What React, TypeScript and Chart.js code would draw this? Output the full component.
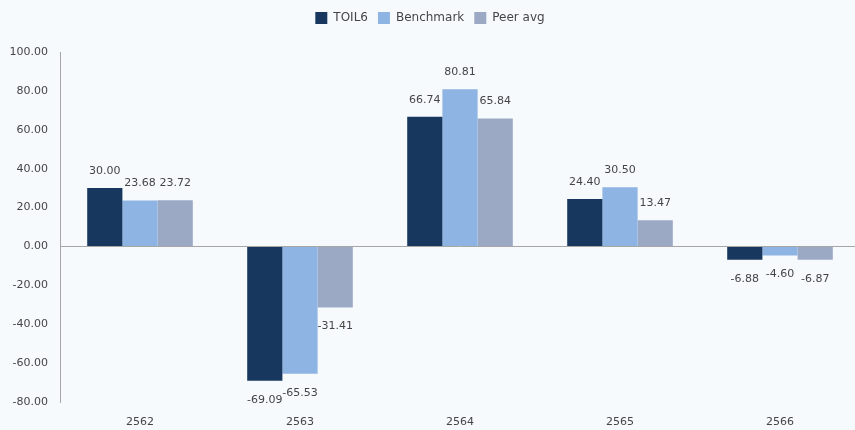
import React, { useEffect, useRef } from "react";
import { Chart, registerables } from "chart.js";

Chart.register(...registerables);

const categories = ["2562", "2563", "2564", "2565", "2566"];
const toil6 = [30.0, -69.09, 66.74, 24.4, -6.88];
const benchmark = [23.68, -65.53, 80.81, 30.5, -4.6];
const peerAvg = [23.72, -31.41, 65.84, 13.47, -6.87];
const seriesNames = ["TOIL6", "Benchmark", "Peer avg"];
const seriesColors = ["#17375E", "#8DB4E2", "#9BA9C5"];

const FONT = "'DejaVu Sans', sans-serif";
const TEXT = "#454545";

const legendMargin = {
  id: "legendMargin",
  beforeInit(chart: any) {
    const orig = chart.legend.fit;
    chart.legend.fit = function () {
      orig.bind(chart.legend)();
      this.height += 18;
    };
  },
};

const valueLabels = {
  id: "valueLabels",
  afterDatasetsDraw(chart: any) {
    const ctx = chart.ctx;
    ctx.save();
    ctx.font = `11px ${FONT}`;
    ctx.fillStyle = TEXT;
    ctx.textAlign = "center";
    ctx.textBaseline = "middle";
    chart.data.datasets.forEach((ds: any, i: number) => {
      const meta = chart.getDatasetMeta(i);
      meta.data.forEach((bar: any, j: number) => {
        const v = ds.data[j] as number;
        const y = v >= 0 ? bar.y - 17 : bar.y + 19;
        ctx.fillText(v.toFixed(2), bar.x, y);
      });
    });
    ctx.restore();
  },
};

export default function App() {
  const ref = useRef<HTMLCanvasElement>(null);
  useEffect(() => {
    if (!ref.current) return;
    const chart = new Chart(ref.current, {
      type: "bar",
      data: {
        labels: categories,
        datasets: [toil6, benchmark, peerAvg].map((d, i) => ({
          label: seriesNames[i],
          data: d,
          backgroundColor: seriesColors[i],
          borderWidth: 0,
          barPercentage: 1,
          categoryPercentage: 0.66,
        })),
      },
      options: {
        responsive: false,
        animation: false,
        layout: { padding: { top: 2, right: 0, left: 0, bottom: 0 } },
        plugins: {
          legend: {
            position: "top",
            labels: {
              boxWidth: 12,
              boxHeight: 12,
              padding: 10,
              color: TEXT,
              font: { family: FONT, size: 12 },
            },
          },
          tooltip: { enabled: false },
        },
        scales: {
          x: {
            grid: { display: false, drawTicks: false },
            border: { display: false },
            ticks: { color: TEXT, font: { family: FONT, size: 11 }, padding: 14 },
            afterFit: (s: any) => {
              s.height = 28;
            },
          },
          y: {
            min: -80,
            max: 100,
            ticks: {
              stepSize: 20,
              color: TEXT,
              font: { family: FONT, size: 11 },
              padding: 12,
              callback: (v: any) => Number(v).toFixed(2),
            },
            grid: {
              drawTicks: false,
              color: (c: any) => (c.tick && c.tick.value === 0 ? "#A6A6A6" : "rgba(0,0,0,0)"),
            },
            border: { display: true, color: "#A6A6A6" },
            afterFit: (s: any) => {
              s.width = 60;
            },
          },
        },
      },
      plugins: [legendMargin, valueLabels],
    });
    return () => chart.destroy();
  }, []);
  return (
    <div
      style={{
        position: "fixed",
        left: 0,
        top: 0,
        width: 855,
        height: 430,
        overflow: "hidden",
        background: "#F7FAFD",
      }}
    >
      <canvas ref={ref} width={860} height={430} style={{ display: "block" }} />
    </div>
  );
}
